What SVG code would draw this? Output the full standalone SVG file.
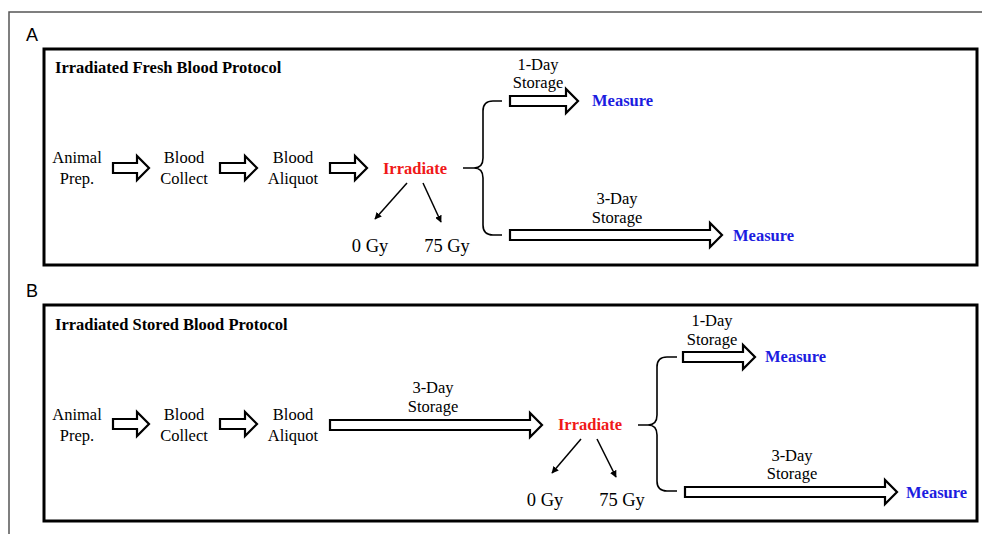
<svg xmlns="http://www.w3.org/2000/svg" width="982" height="534" viewBox="0 0 982 534">
<defs>
<marker id="ah" viewBox="0 0 10 10" refX="9" refY="5" markerWidth="7" markerHeight="7" orient="auto" markerUnits="userSpaceOnUse">
<path d="M0,0 L10,5 L0,10 z" fill="#000"/>
</marker>
</defs>
<style>
.frame{fill:none;stroke:#555;stroke-width:1.5}
.panel{fill:#fff;stroke:#000;stroke-width:3}
.lbl{font-family:"Liberation Sans",Arial,sans-serif;font-size:18px;fill:#000}
.title{font-family:"Liberation Serif","Times New Roman",serif;font-size:16.5px;font-weight:bold;fill:#000}
.t{font-family:"Liberation Serif","Times New Roman",serif;font-size:16.5px;fill:#000;text-anchor:middle}
.gy{font-family:"Liberation Serif","Times New Roman",serif;font-size:18.5px;fill:#000;text-anchor:middle}
.irr{font-family:"Liberation Serif","Times New Roman",serif;font-size:16.5px;font-weight:bold;fill:#f01818;text-anchor:middle}
.meas{font-family:"Liberation Serif","Times New Roman",serif;font-size:16.5px;font-weight:bold;fill:#1c1ce0}
.blk{fill:#fff;stroke:#000;stroke-width:2.2;stroke-linejoin:miter}
.ln{fill:none;stroke:#000;stroke-width:1.5}
.br{fill:none;stroke:#000;stroke-width:1.6}
</style>
<path class="frame" d="M982,12 L9,12 L9,534"/>
<text class="lbl" x="26" y="41">A</text>
<text class="lbl" x="26" y="297">B</text>
<rect class="panel" x="44" y="49" width="933" height="216"/>
<rect class="panel" x="44" y="305" width="933" height="216"/>
<text class="title" x="55" y="73">Irradiated Fresh Blood Protocol</text>
<text class="title" x="55" y="330">Irradiated Stored Blood Protocol</text>

<g id="A-animal"><text class="t" x="77" y="163">Animal</text><text class="t" x="77" y="184">Prep.</text></g>
<g id="A-collect"><text class="t" x="184" y="163">Blood</text><text class="t" x="184" y="184">Collect</text></g>
<g id="A-aliquot"><text class="t" x="293" y="163">Blood</text><text class="t" x="293" y="184">Aliquot</text></g>
<g id="A-irradiate"><text class="irr" x="415" y="174">Irradiate</text></g>
<g id="A-0gy"><text class="gy" x="370" y="252">0 Gy</text></g>
<g id="A-75gy"><text class="gy" x="447" y="252">75 Gy</text></g>
<g id="A-measure1"><text class="meas" x="592" y="106">Measure</text></g>
<g id="A-measure3"><text class="meas" x="733" y="241">Measure</text></g>

<g id="B-animal"><text class="t" x="77" y="420">Animal</text><text class="t" x="77" y="441">Prep.</text></g>
<g id="B-collect"><text class="t" x="184" y="420">Blood</text><text class="t" x="184" y="441">Collect</text></g>
<g id="B-aliquot"><text class="t" x="293" y="420">Blood</text><text class="t" x="293" y="441">Aliquot</text></g>
<g id="B-irradiate"><text class="irr" x="590" y="430">Irradiate</text></g>
<g id="B-0gy"><text class="gy" x="545" y="506">0 Gy</text></g>
<g id="B-75gy"><text class="gy" x="622" y="506">75 Gy</text></g>
<g id="B-measure1"><text class="meas" x="765" y="362">Measure</text></g>
<g id="B-measure3"><text class="meas" x="906" y="498">Measure</text></g>

<g id="connectors">
<!-- Panel A -->
<polygon class="blk" points="113,163 137,163 137,156 149,168 137,180 137,173 113,173"/>
<polygon class="blk" points="220,163 245,163 245,156 257,168 245,180 245,173 220,173"/>
<polygon class="blk" points="330,163 355,163 355,156 367,168 355,180 355,173 330,173"/>
<line class="ln" x1="407" y1="183" x2="375" y2="219" marker-end="url(#ah)"/>
<line class="ln" x1="423" y1="183" x2="441" y2="222" marker-end="url(#ah)"/>
<path class="br" d="M463,168 L474,168 Q483,168 483,158 L483,111 Q483,101 493,101 L502,101 M474,168 Q483,168 483,178 L483,225 Q483,235 493,235 L502,235"/>
<polygon class="blk" points="510,96 566,96 566,89 578,101 566,113 566,106 510,106"/>
<text class="t" x="538" y="70">1-Day</text><text class="t" x="538" y="88">Storage</text>
<polygon class="blk" points="510,230 710,230 710,223 722,235 710,247 710,240 510,240"/>
<text class="t" x="617" y="204">3-Day</text><text class="t" x="617" y="223">Storage</text>
<!-- Panel B -->
<polygon class="blk" points="113,419 137,419 137,412 149,424 137,436 137,429 113,429"/>
<polygon class="blk" points="220,419 245,419 245,412 257,424 245,436 245,429 220,429"/>
<polygon class="blk" points="330,420 530,420 530,413 542,425 530,437 530,430 330,430"/>
<text class="t" x="433" y="393">3-Day</text><text class="t" x="433" y="412">Storage</text>
<line class="ln" x1="581" y1="439" x2="552" y2="473" marker-end="url(#ah)"/>
<line class="ln" x1="597" y1="439" x2="616" y2="477" marker-end="url(#ah)"/>
<path class="br" d="M638,425 L648,425 Q657,425 657,415 L657,367 Q657,357 667,357 L677,357 M648,425 Q657,425 657,435 L657,481 Q657,491 667,491 L677,491"/>
<polygon class="blk" points="683,352 743,352 743,345 755,357 743,369 743,362 683,362"/>
<text class="t" x="712" y="326">1-Day</text><text class="t" x="712" y="345">Storage</text>
<polygon class="blk" points="685,487 885,487 885,480 897,492 885,504 885,497 685,497"/>
<text class="t" x="792" y="461">3-Day</text><text class="t" x="792" y="479">Storage</text>
</g>
</svg>
